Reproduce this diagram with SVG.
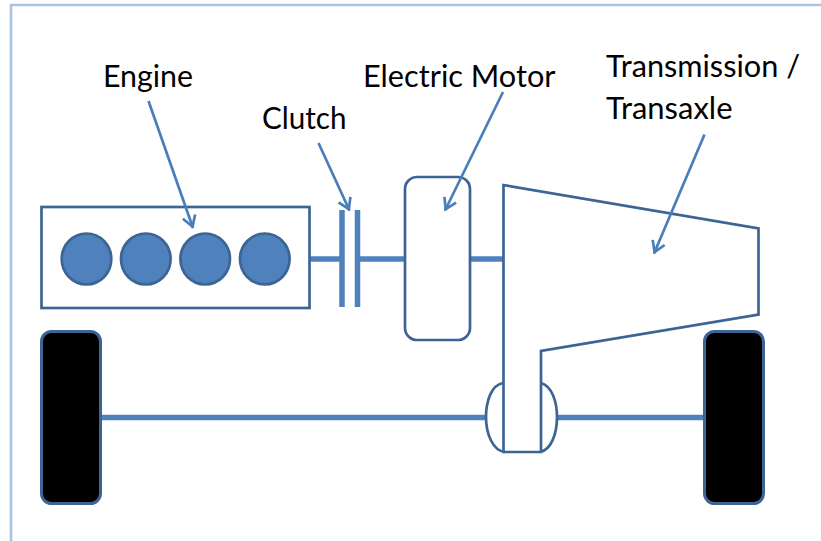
<svg xmlns="http://www.w3.org/2000/svg" width="821" height="541" viewBox="0 0 821 541">
<defs>
<style>
.o{fill:none;stroke:#3c6494;stroke-width:2.7;stroke-linejoin:miter}
.w{fill:#000;stroke:#3c6494;stroke-width:3}
.c{fill:#4f81bd;stroke:#3c6494;stroke-width:2.7}
.s{fill:none;stroke:#4f81bd;stroke-width:5.500}
.a{fill:none;stroke:#4a7ebb;stroke-width:2.700}
text{font-family:"Lato","Liberation Sans",sans-serif;font-size:30.500px;fill:#000}
</style>
<marker id="ah" viewBox="-13 -8 15 16" refX="1.500" refY="0" markerWidth="15" markerHeight="16" markerUnits="userSpaceOnUse" orient="auto">
<path d="M-10.500,-6.500 L0,0 L-10.500,6.500" fill="none" stroke="#4a7ebb" stroke-width="2.700"/>
</marker>
</defs>
<rect width="821" height="541" fill="#fff"/>
<path d="M821,5 H11 V541" fill="none" stroke="#a9c3e3" stroke-width="2.600"/>
<g id="connectors">
<path class="s" d="M309,259H342M358,259H405M470,259H503M101,417.500H486M557,417.500H705"/>
</g>
<g id="engine">
<rect class="o" x="41.500" y="207" width="268" height="101"/>
<ellipse class="c" cx="86.500" cy="259" rx="24.800" ry="25.500"/>
<ellipse class="c" cx="145.800" cy="259" rx="24.800" ry="25.500"/>
<ellipse class="c" cx="205.200" cy="259" rx="24.800" ry="25.500"/>
<ellipse class="c" cx="264.800" cy="259" rx="24.800" ry="25.500"/>
</g>
<g id="clutch">
<path class="s" d="M342,210V307M357.500,210V307"/>
</g>
<g id="motor">
<rect class="o" x="405" y="177" width="65" height="163" rx="12" ry="12"/>
</g>
<g id="differential">
<path class="o" d="M503,383C491,385 486,402 486,417C486,434 493,451 505,452M541,383C552,386 557,402 557,417C557,434 551,450 540,452"/>
</g>
<g id="transmission">
<path class="o" d="M503.500,185L758.500,228.500V314.500L541,351V452H503.500Z"/>
</g>
<g id="wheel-left">
<rect class="w" x="41.500" y="331.500" width="59" height="172" rx="10" ry="10"/>
</g>
<g id="wheel-right">
<rect class="w" x="704.500" y="331.500" width="59" height="172" rx="10" ry="10"/>
</g>
<g id="leaders">
<path class="a" marker-end="url(#ah)" d="M148.500,101L193,228"/>
<path class="a" marker-end="url(#ah)" d="M318.500,143L349.500,210.500"/>
<path class="a" marker-end="url(#ah)" d="M503,92L445,210.500"/>
<path class="a" marker-end="url(#ah)" d="M704.500,134.500L654,253.500"/>
</g>
<g id="labels">
<text x="103" y="86.500" textLength="90" lengthAdjust="spacingAndGlyphs">Engine</text>
<text x="262" y="128.500" textLength="84.500" lengthAdjust="spacingAndGlyphs">Clutch</text>
<text x="363" y="86.500" textLength="192.500" lengthAdjust="spacingAndGlyphs">Electric Motor</text>
<text x="606" y="76.500" textLength="194" lengthAdjust="spacingAndGlyphs">Transmission /</text>
<text x="606" y="118.500" textLength="126.500" lengthAdjust="spacingAndGlyphs">Transaxle</text>
</g>
</svg>
